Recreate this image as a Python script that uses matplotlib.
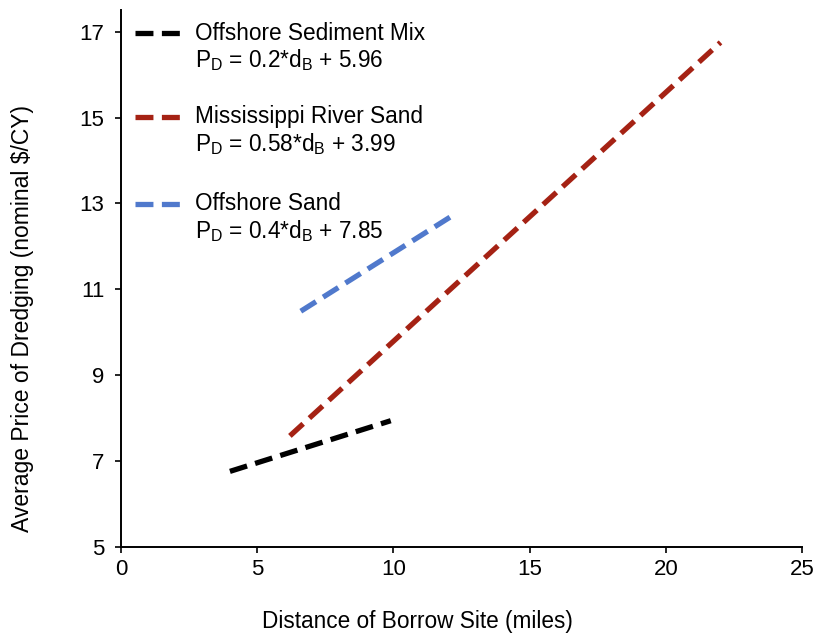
import numpy as np
import matplotlib.pyplot as plt
from matplotlib.lines import Line2D

plt.rcParams['font.family'] = ['Liberation Sans', 'DejaVu Sans']
plt.rcParams['mathtext.fontset'] = 'custom'
plt.rcParams['mathtext.rm'] = 'Liberation Sans'
plt.rcParams['mathtext.it'] = 'Liberation Sans'

# fitted price curves: P_D = slope * d_B + intercept over the observed range
names = ['Offshore Sediment Mix', 'Mississippi River Sand', 'Offshore Sand']
slopes = [0.2, 0.58, 0.4]
intercepts = [5.96, 3.99, 7.85]
x_start = [4.0, 6.2, 6.6]
x_end = [9.9, 22.0, 12.3]
colors = ['#000000', '#A52214', '#5079CC']

xticks = [0, 5, 10, 15, 20, 25]
yticks = [5, 7, 9, 11, 13, 15, 17]

fig = plt.figure(figsize=(8.17, 6.36), dpi=100)
ax = fig.add_axes([0.148, 0.140, 0.834, 0.844])

for s, b, x0, x1, c in zip(slopes, intercepts, x_start, x_end, colors):
    xs = np.array([x0, x1])
    ax.plot(xs, s * xs + b, color=c, lw=3.8, dashes=(3.4, 1.6), solid_capstyle='butt')

ax.set_xlim(0, 25)
ax.set_ylim(5, 17.5)
ax.set_xticks(xticks)
ax.set_yticks(yticks)
ax.tick_params(labelsize=16, length=4, width=1.2, direction='out')
ax.tick_params(axis='x', pad=5)
ax.tick_params(axis='y', pad=8)
for side in ['top', 'right']:
    ax.spines[side].set_visible(False)
for side in ['left', 'bottom']:
    ax.spines[side].set_linewidth(1.4)

ax.set_xlabel('Distance of Borrow Site (miles)', fontsize=16.3)
ax.xaxis.set_label_coords(0.435, -0.118)
ax.set_ylabel('Average Price of Dredging (nominal $/CY)', fontsize=16.5)
ax.yaxis.set_label_coords(-0.128, 0.426)

# hand-placed legend: name with dashed sample, equation line below
fig_w, fig_h = 817, 636
ax_l, ax_b, ax_w, ax_h = 0.148 * fig_w, 0.140 * fig_h, 0.834 * fig_w, 0.844 * fig_h
def ax_xy(px, py):
    return (px - ax_l) / ax_w, (fig_h - py - ax_b) / ax_h

legend_rows = [33, 117, 204]
for name, s, b, c, py in zip(names, slopes, intercepts, colors, legend_rows):
    x0, y0 = ax_xy(135, py)
    x1, _ = ax_xy(180, py)
    ax.add_line(Line2D([x0, x1], [y0, y0], transform=ax.transAxes, color=c,
                       lw=3.8, dashes=(3.4, 1.6), clip_on=False))
    tx, ty = ax_xy(195, py)
    ax.text(tx, ty, name, transform=ax.transAxes, fontsize=16.3, va='center', ha='left')
    _, ey = ax_xy(195, py + 27)
    ax.text(tx, ey, r'P$_{\mathrm{D}}$ = %s*d$_{\mathrm{B}}$ + %s' % (f'{s:g}', f'{b:.2f}'),
            transform=ax.transAxes, fontsize=16.3, va='center', ha='left')

plt.savefig('out.png', dpi=100)
